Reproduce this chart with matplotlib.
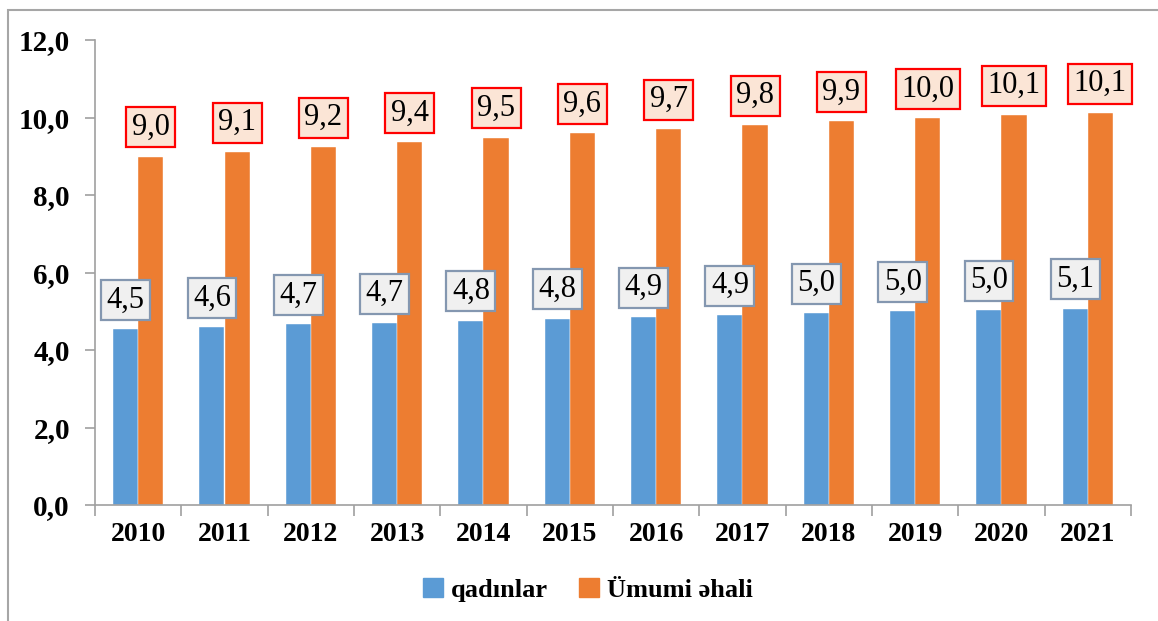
import matplotlib
matplotlib.use("Agg")
import matplotlib.pyplot as plt
from matplotlib.patches import Rectangle, Patch
import numpy as np

years = ["2010", "2011", "2012", "2013", "2014", "2015", "2016", "2017", "2018", "2019", "2020", "2021"]
women = [4.53, 4.59, 4.66, 4.70, 4.76, 4.81, 4.86, 4.91, 4.96, 5.00, 5.04, 5.07]
total = [8.99, 9.11, 9.24, 9.36, 9.48, 9.59, 9.71, 9.81, 9.90, 9.98, 10.07, 10.12]
series_names = ["qadınlar", "Ümumi əhali"]
yticks = [0, 2, 4, 6, 8, 10, 12]

FAM = ['Liberation Serif', 'DejaVu Serif']
plt.rcParams['font.family'] = FAM

W, H = 1158, 621
fig = plt.figure(figsize=(W / 100, H / 100), dpi=100)
ax = fig.add_axes([95 / W, 1 - 505 / H, (1131 - 95) / W, (505 - 40) / H])

blue = "#5B9BD5"
orange = "#ED7D31"
x = np.arange(len(years))
bw = 0.29
ax.bar(x - bw / 2, women, bw, color=blue, edgecolor="white", linewidth=0.3)
ax.bar(x + bw / 2, total, bw, color=orange, edgecolor="white", linewidth=0.3)

def fmt(v):
    return f"{v:.1f}".replace(".", ",")

for xi, v in zip(x, women):
    ax.annotate(fmt(v), (xi - bw / 2, v), xytext=(0, 21), textcoords="offset points",
                ha="center", va="center", fontsize=22, family=FAM,
                bbox=dict(boxstyle="square,pad=0.18", fc="#F0F0F0", ec="#8497B0", lw=1.6))
for xi, v in zip(x, total):
    ax.annotate(fmt(v), (xi + bw / 2, v), xytext=(0, 21), textcoords="offset points",
                ha="center", va="center", fontsize=22, family=FAM,
                bbox=dict(boxstyle="square,pad=0.18", fc="#FBE5D6", ec="#FF0000", lw=1.6))

ax.set_xlim(-0.5, len(years) - 0.5)
ax.set_ylim(0, 12)
ax.set_yticks(yticks)
ax.set_yticklabels([fmt(v) for v in yticks], fontsize=21, fontweight="bold", family=FAM)
ax.set_xticks(x)
ax.set_xticklabels(years, fontsize=20, fontweight="bold", family=FAM)
ax.set_xticks(np.arange(len(years) + 1) - 0.5, minor=True)
ax.tick_params(axis="x", which="major", length=0, pad=12)
ax.tick_params(axis="x", which="minor", length=8, color="#A0A0A0", width=1.2)
ax.tick_params(axis="y", length=7, color="#A0A0A0", width=1.2, pad=11)
for s in ["top", "right"]:
    ax.spines[s].set_visible(False)
for s in ["left", "bottom"]:
    ax.spines[s].set_color("#A0A0A0")
    ax.spines[s].set_linewidth(1.2)

handles = [Patch(color=blue), Patch(color=orange)]
fig.legend(handles, series_names, loc="center", bbox_to_anchor=(588 / W, 1 - 590 / H),
           ncol=2, frameon=False, handlelength=0.75, handleheight=0.75, handletextpad=0.3,
           columnspacing=1.2, prop=dict(size=19, weight="bold", family=FAM))

fig.patches.append(Rectangle((8 / W, -0.1), 1.2, 1.1 - 10 / H, transform=fig.transFigure,
                             fill=False, ec="#A6A6A6", lw=1.5))

fig.savefig("out.png", dpi=100)
